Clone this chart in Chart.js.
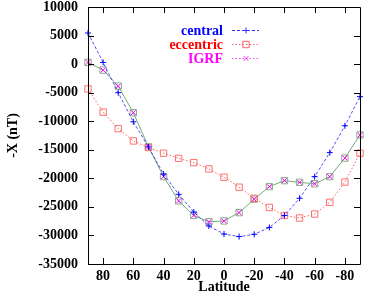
<!DOCTYPE html>
<html>
<head>
<meta charset="utf-8">
<script src="https://cdn.jsdelivr.net/npm/chart.js@4.4.1/dist/chart.umd.min.js"></script>
<style>
html, body { margin: 0; padding: 0; background: #fff; }
canvas { display: block; }
</style>
</head>
<body>
<canvas id="chart_latitude" width="382" height="301"></canvas>
<script>
// data
const latitudes = [90, 80, 70, 60, 50, 40, 30, 20, 10, 0, -10, -20, -30, -40, -50, -60, -70, -80, -90];
const central = [5450, 300, -5000, -10100, -14500, -19250, -22800, -25900, -28350, -29750, -30200, -29800, -28600, -26500, -23500, -19700, -15500, -10800, -5700];
const eccentric = [-4350, -8400, -11300, -13450, -14600, -15600, -16500, -17250, -18350, -19800, -21550, -23500, -25100, -26500, -26950, -26250, -24200, -20650, -15600];
const igrf = [300, -1050, -3850, -8500, -14500, -19700, -23950, -26500, -27600, -27450, -26000, -23650, -21450, -20400, -20700, -20950, -19700, -16450, -12400];
const xTickValues = [80, 60, 40, 20, 0, -20, -40, -60, -80];
const yTickValues = [10000, 5000, 0, -5000, -10000, -15000, -20000, -25000, -30000, -35000];
const seriesLabels = ['central', 'eccentric', 'IGRF'];

const fontFamily = '"Liberation Serif", "DejaVu Serif", serif';

function toPoints(values) {
    return values.map(function (v, i) { return {x: latitudes[i], y: v}; });
}

const legendItems = [
    {label: seriesLabels[0], color: '#0000ff', line: '#3030ff', dash: [3, 2], pointStyle: 'cross', radius: 3},
    {label: seriesLabels[1], color: '#ff0000', line: '#ff6060', dash: [1.5, 2], pointStyle: 'rect', radius: 4.5},
    {label: seriesLabels[2], color: '#ff00ff', line: '#ff40ff', dash: [1.5, 2], pointStyle: 'crossRot', radius: 3.5}
];

// frame with inward ticks on all four sides
function drawFrame(chart) {
    const ctx = chart.ctx;
    const area = chart.chartArea;
    const xs = chart.scales.x;
    const ys = chart.scales.y;
    ctx.save();
    ctx.strokeStyle = '#000';
    ctx.lineWidth = 1;
    ctx.beginPath();
    ctx.rect(Math.round(area.left) + 0.5, Math.round(area.top) + 0.5,
        Math.round(area.right - area.left), Math.round(area.bottom - area.top));
    xTickValues.forEach(function (v) {
        const px = Math.round(xs.getPixelForValue(v)) + 0.5;
        ctx.moveTo(px, area.bottom); ctx.lineTo(px, area.bottom - 6);
        ctx.moveTo(px, area.top); ctx.lineTo(px, area.top + 6);
    });
    yTickValues.forEach(function (v) {
        const py = Math.round(ys.getPixelForValue(v)) + 0.5;
        ctx.moveTo(area.left, py); ctx.lineTo(area.left + 6, py);
        ctx.moveTo(area.right, py); ctx.lineTo(area.right - 6, py);
    });
    ctx.stroke();
    ctx.restore();
}

function drawLegend(chart) {
    const ctx = chart.ctx;
    ctx.save();
    ctx.font = 'bold 14px ' + fontFamily;
    ctx.textAlign = 'right';
    ctx.textBaseline = 'middle';
    legendItems.forEach(function (item, i) {
        const y = 30 + i * 14;
        ctx.fillStyle = item.color;
        ctx.fillText(item.label, 223, y + 1);
        ctx.strokeStyle = item.line;
        ctx.lineWidth = 1;
        ctx.setLineDash(item.dash);
        ctx.beginPath();
        ctx.moveTo(232, Math.round(y) + 0.5);
        ctx.lineTo(259, Math.round(y) + 0.5);
        ctx.stroke();
        ctx.setLineDash([]);
        ctx.strokeStyle = item.line;
        ctx.fillStyle = 'rgba(0,0,0,0)';
        Chart.helpers.drawPoint(ctx, {pointStyle: item.pointStyle, radius: item.radius, rotation: 0, borderWidth: 1}, 246, Math.round(y) + 0.5);
    });
    ctx.restore();
}

const datasets = [
    {
        label: seriesLabels[0],
        data: toPoints(central),
        borderColor: 'rgba(40,40,255,0.8)',
        borderWidth: 1,
        borderDash: [3, 2],
        pointStyle: 'cross',
        pointRadius: 3,
        pointBorderColor: '#0000ff',
        pointBorderWidth: 1,
        showLine: true,
        fill: false,
        tension: 0,
        clip: false
    },
    {
        label: seriesLabels[1],
        data: toPoints(eccentric),
        borderColor: '#ff6060',
        borderWidth: 1,
        borderDash: [1.5, 2],
        pointStyle: 'rect',
        pointRadius: 4.5,
        pointBackgroundColor: 'rgba(0,0,0,0)',
        pointBorderColor: '#ff7070',
        pointBorderWidth: 1,
        showLine: true,
        fill: false,
        tension: 0,
        clip: false
    },
    {
        label: seriesLabels[2],
        data: toPoints(igrf),
        pointStyle: 'crossRot',
        pointRadius: 3.5,
        pointBorderColor: '#ff00ff',
        pointBorderWidth: 1,
        showLine: false,
        clip: false
    },
    {
        label: 'IGRF line',
        data: toPoints(igrf),
        borderColor: '#78a878',
        borderWidth: 1,
        pointStyle: 'rect',
        pointRadius: 4.5,
        pointBackgroundColor: 'rgba(0,0,0,0)',
        pointBorderColor: '#88b088',
        pointBorderWidth: 1,
        showLine: true,
        fill: false,
        tension: 0,
        clip: false
    }
];

new Chart(document.getElementById('chart_latitude'), {
    type: 'scatter',
    data: {datasets: datasets},
    options: {
        responsive: false,
        animation: false,
        layout: {padding: {left: 0, right: 22, top: 7, bottom: 0}},
        scales: {
            x: {
                type: 'linear',
                reverse: true,
                min: -90,
                max: 90,
                afterBuildTicks: function (scale) {
                    scale.ticks = xTickValues.map(function (v) { return {value: v}; });
                },
                afterFit: function (scale) {
                    scale.height = 37;
                    scale.paddingLeft = 0;
                    scale.paddingRight = 0;
                },
                grid: {display: false, drawTicks: false},
                border: {display: false},
                ticks: {
                    color: '#000',
                    padding: 4,
                    maxRotation: 0,
                    callback: function (value) { return String(value); },
                    font: {family: fontFamily, size: 14, weight: 'bold'}
                },
                title: {
                    display: true,
                    text: 'Latitude',
                    color: '#000',
                    padding: {top: 0, bottom: 5},
                    font: {family: fontFamily, size: 14, weight: 'bold'}
                }
            },
            y: {
                min: -35000,
                max: 10000,
                afterBuildTicks: function (scale) {
                    scale.ticks = yTickValues.map(function (v) { return {value: v}; });
                },
                afterFit: function (scale) {
                    scale.width = 88;
                    scale.paddingTop = 0;
                    scale.paddingBottom = 0;
                },
                grid: {display: false, drawTicks: false},
                border: {display: false},
                ticks: {
                    color: '#000',
                    padding: 10,
                    callback: function (value) { return String(value); },
                    font: {family: fontFamily, size: 14, weight: 'bold'}
                },
                title: {
                    display: true,
                    text: '-X (nT)',
                    color: '#000',
                    padding: {top: 5, bottom: 0},
                    font: {family: fontFamily, size: 14, weight: 'bold'}
                }
            }
        },
        plugins: {
            legend: {display: false},
            tooltip: {enabled: false}
        }
    },
    plugins: [
        {
            id: 'frame',
            beforeDraw: function (chart) {
                const ctx = chart.ctx;
                ctx.save();
                ctx.fillStyle = 'white';
                ctx.fillRect(0, 0, chart.width, chart.height);
                ctx.restore();
            },
            afterDraw: function (chart) {
                drawFrame(chart);
                drawLegend(chart);
            }
        }
    ]
});
</script>
</body>
</html>
